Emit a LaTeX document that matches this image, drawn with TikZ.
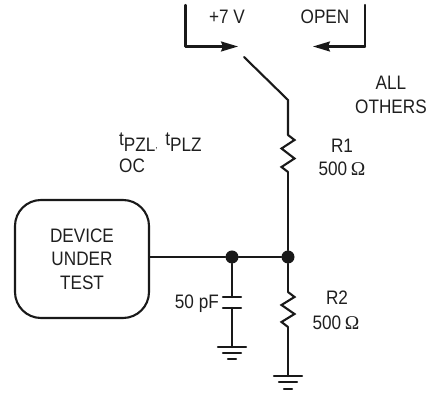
\documentclass[tikz,border=0pt]{standalone}
\usepackage{fontspec}
\setmainfont[FakeStretch=0.88]{Liberation Sans}
\newfontfamily\omegafont{Liberation Serif}
\usetikzlibrary{arrows.meta}
\tikzset{
  wire/.style={line width=2.1pt,line cap=round,line join=miter,color=black!90},
  arrowwire/.style={wire,-{Stealth[length=17pt,width=10pt,inset=2pt]}},
  label/.style={inner sep=0pt,text=black!88,font=\fontsize{19.5}{20}\selectfont},
  dot/.style={circle,fill=black!90,minimum size=13pt,inner sep=0pt},
  dut/.style={draw=black!90,line width=2.1pt,rounded corners=26pt,minimum width=134pt,minimum height=118pt,inner sep=0pt,align=center,text=black!88,font=\fontsize{19.5}{23.5}\selectfont},
  res/.style={wire,line cap=butt},
}
\newcommand{\ohm}{{\omegafont\char"03A9}}
\begin{document}
\begin{tikzpicture}[x=1pt,y=-1pt]
\useasboundingbox (0,0) rectangle (432,395);
% supply selector
\coordinate (lt) at (185.5,5);
\coordinate (lc) at (185.5,46.5);
\coordinate (lh) at (238,46.5);
\coordinate (rt) at (365,5);
\coordinate (rc) at (365,46.5);
\coordinate (rh) at (313,46.5);
\draw[wire] (lt) -- (lc);
\draw[arrowwire] (lc) -- (lh);
\draw[wire] (rt) -- (rc);
\draw[arrowwire] (rc) -- (rh);
\coordinate (sw) at (244,57);
\coordinate (pivot) at (288,100);
\coordinate (r1t) at (288,135);
\coordinate (r1b) at (288,172);
\node[dot] (n2) at (288,257) {};
\node[dot] (n1) at (232,257) {};
\node[dut] (dev) at (82,259) {DEVICE\\UNDER\\TEST};
\draw[wire] (sw) -- (pivot) -- (r1t);
\draw[res] (r1t) -- ++(6.5,5) -- ++(-13,8.5) -- ++(13,10) -- ++(-13,8.5) -- (r1b);
\draw[wire] (r1b) -- (n2);
\draw[wire] (dev.east |- n1) -- (n1) -- (n2);
% capacitor
\coordinate (c1) at (232,297);
\coordinate (c2) at (232,308);
\coordinate (g1) at (232,347);
\draw[wire] (n1) -- (c1);
\draw[wire] (223,297) -- (241,297);
\draw[wire] (223,308) -- (241,308);
\draw[wire] (c2) -- (g1);
\draw[wire] (218,347) -- (246,347);
\draw[wire] (223,353) -- (241,353);
\draw[wire] (228,359) -- (236,359);
% R2
\coordinate (r2t) at (288,292);
\coordinate (r2b) at (288,327);
\coordinate (g2) at (288,376);
\draw[wire] (n2) -- (r2t);
\draw[res] (r2t) -- ++(6.5,5) -- ++(-13,8) -- ++(13,9) -- ++(-13,8) -- (r2b);
\draw[wire] (r2b) -- (g2);
\draw[wire] (274,376) -- (302,376);
\draw[wire] (279,382) -- (297,382);
\draw[wire] (284,389) -- (292,389);
% labels
\node[label] (t7) at (227,17) {+7 V};
\node[label] (topen) at (325,17) {OPEN};
\node[label] (tall) at (391,83) {ALL};
\node[label] (toth) at (391,107) {OTHERS};
\node[label] (tr1) at (342,146) {R1};
\node[label] (tv1) at (342,169) {500\hspace{-1pt} \ohm};
\node[label] (tr2) at (337,298) {R2};
\node[label] (tv2) at (336,323) {500\hspace{-1pt} \ohm};
\node[label,anchor=east] (tc) at (219,304) {50 pF};
\node[label,anchor=base west] (tp) at (119,152) {\raisebox{6pt}{t}PZL\raisebox{3pt}{\fontsize{9}{9}\selectfont,}\hspace{3pt} \raisebox{6pt}{t}PLZ};
\node[label,anchor=base west] (toc) at (119,173) {OC};
\end{tikzpicture}
\end{document}
